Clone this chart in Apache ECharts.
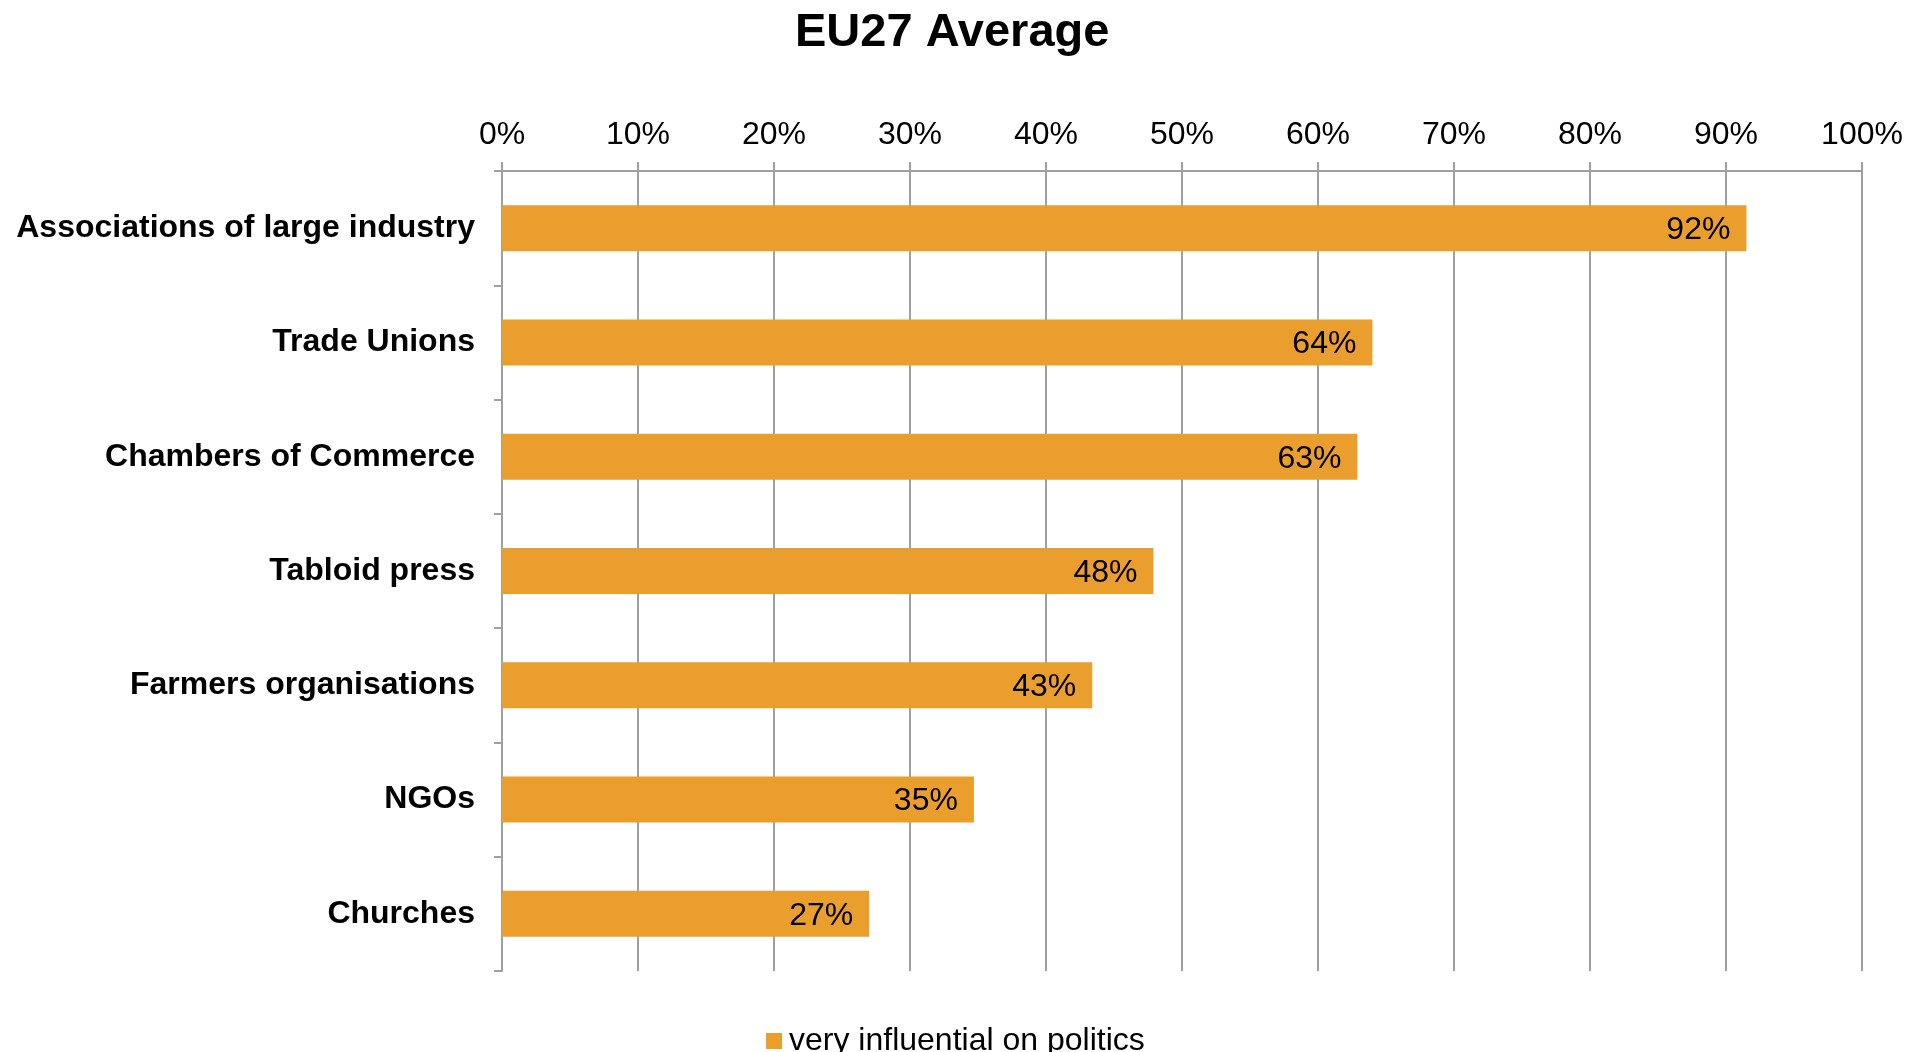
<!DOCTYPE html>
<html>
<head>
<meta charset="utf-8">
<script src="https://cdn.jsdelivr.net/npm/echarts@6/dist/echarts.min.js"></script>
<style>html,body{margin:0;padding:0;background:#fff}#c{width:1919px;height:1052px}</style>
</head>
<body>
<div id="c"></div>
<script>
const categories = ["Associations of large industry","Trade Unions","Chambers of Commerce","Tabloid press","Farmers organisations","NGOs","Churches"];
const values = [91.5, 64, 62.9, 47.9, 43.4, 34.7, 27];
const valueLabels = ["92%","64%","63%","48%","43%","35%","27%"];
const seriesName = "very influential on politics";
const titleText = "EU27 Average";

const FONT = "'Liberation Sans', Arial, sans-serif";
const chart = echarts.init(document.getElementById('c'));
chart.setOption({
  animation: false,
  backgroundColor: '#fff',
  title: {
    text: titleText, left: 790, top: 5,
    textStyle: {fontFamily: FONT, fontSize: 47, fontWeight: 'bold', color: '#000'}
  },
  legend: {
    data: [seriesName], left: 761, top: 1020,
    itemWidth: 16, itemHeight: 16, icon: 'rect', itemGap: 10,
    textStyle: {fontFamily: FONT, fontSize: 32, color: '#000', padding: [0, 0, 0, 2]}
  },
  grid: {left: 502, right: 57, top: 171, bottom: 81, containLabel: false},
  xAxis: {
    type: 'value', position: 'top', min: 0, max: 100, interval: 10,
    axisLine: {show: true, lineStyle: {color: '#a0a0a0', width: 2}},
    axisTick: {show: true, length: 9, lineStyle: {color: '#a0a0a0', width: 2}},
    splitLine: {show: true, lineStyle: {color: '#a0a0a0', width: 2}},
    axisLabel: {formatter: '{value}%', fontFamily: FONT, fontSize: 32, color: '#000', margin: 20}
  },
  yAxis: {
    type: 'category', data: categories, inverse: true,
    axisLine: {show: true, lineStyle: {color: '#a0a0a0', width: 2}},
    axisTick: {show: true, length: 8, alignWithLabel: false, lineStyle: {color: '#a0a0a0', width: 2}},
    axisLabel: {fontFamily: FONT, fontSize: 32, fontWeight: 'bold', color: '#000', margin: 27, padding: [9, 0, 0, 0]}
  },
  series: [{
    name: seriesName, type: 'bar', data: values, barWidth: 46,
    itemStyle: {color: '#EA9E2E'},
    label: {
      show: true, position: 'insideRight', distance: 16, offset: [0, 2],
      formatter: p => valueLabels[p.dataIndex],
      fontFamily: FONT, fontSize: 32, color: '#000'
    }
  }]
});
</script>
</body>
</html>
